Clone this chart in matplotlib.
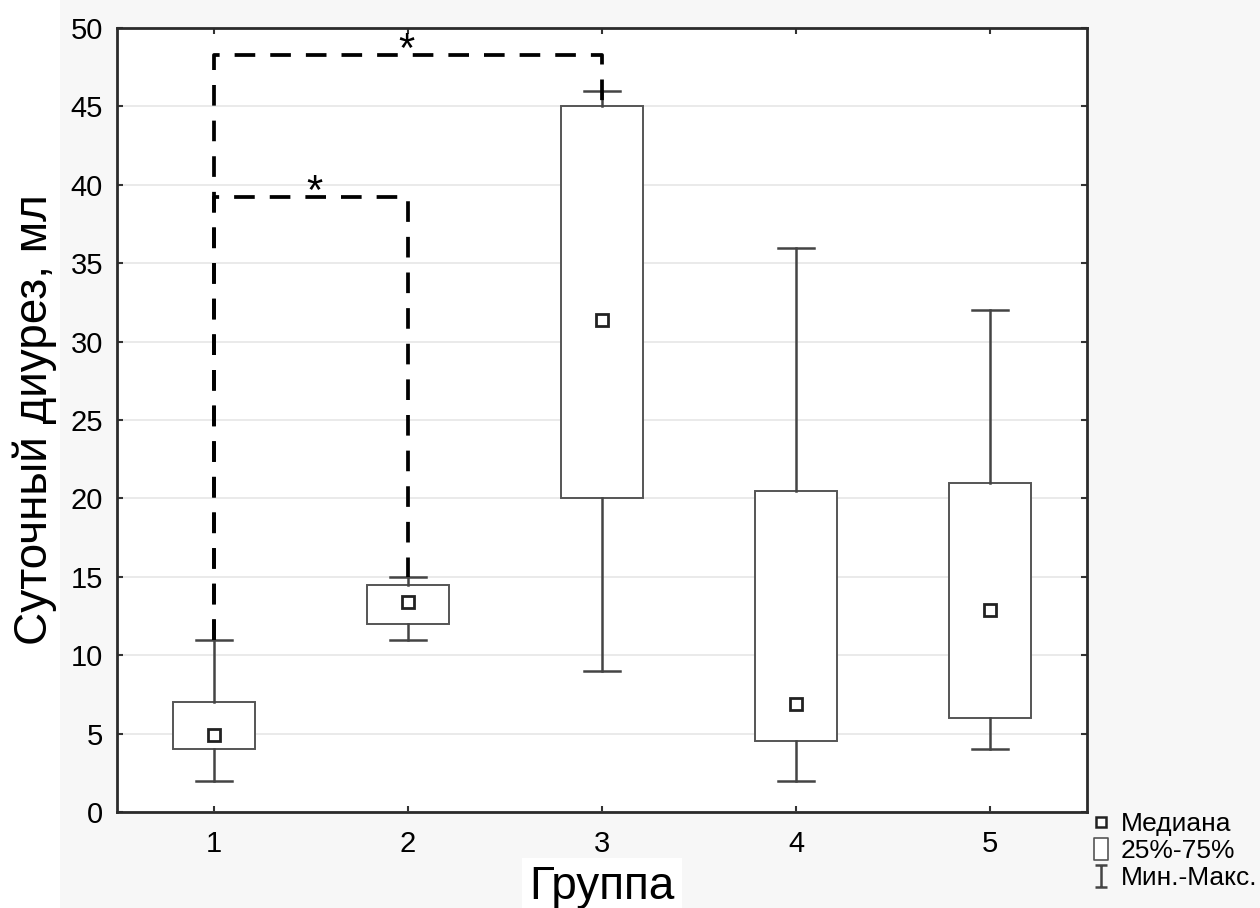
import numpy as np
import matplotlib.pyplot as plt
from matplotlib.path import Path
from matplotlib.lines import Line2D
from matplotlib.patches import Rectangle

plt.rcParams["font.family"] = ["Liberation Sans", "DejaVu Sans"]

# box statistics per group
groups = [1, 2, 3, 4, 5]
group_labels = ["1", "2", "3", "4", "5"]
mins = [2, 11, 9, 2, 4]
q1s = [4, 12, 20, 4.5, 6]
medians = [4.9, 13.4, 31.4, 6.9, 12.9]
q3s = [7, 14.5, 45, 20.5, 21]
maxs = [11, 15, 46, 36, 32]

# significance brackets: (left group, right group), bracket height, end heights
bracket_pairs = [(1, 3), (1, 2)]
bracket_heights = [48.3, 39.2]
bracket_ends = [(11, 45.2), (11, 15)]
star_x = [1.99, 1.52]

fig = plt.figure(figsize=(12.6, 9.08), dpi=100, facecolor="#f7f7f7")
fig.patches.append(Rectangle((0, 0), 60 / 1260, 1, transform=fig.transFigure,
                             facecolor="white", edgecolor="none", zorder=-1))
ax = fig.add_axes([117 / 1260, 1 - 812 / 908, 970 / 1260, 784 / 908])

stats = []
for lo, a, m, b, hi in zip(mins, q1s, medians, q3s, maxs):
    stats.append({"whislo": lo, "q1": a, "med": m, "q3": b, "whishi": hi, "fliers": []})

ax.bxp(stats, positions=groups, widths=0.42, showfliers=False, patch_artist=True,
       boxprops=dict(facecolor="white", edgecolor="#555555", linewidth=1.4),
       whiskerprops=dict(color="#444444", linewidth=1.8),
       capprops=dict(color="#444444", linewidth=1.8),
       medianprops=dict(visible=False), capwidths=0.19, zorder=3)

ax.plot(groups, medians, "s", markersize=8, markerfacecolor="white",
        markeredgecolor="#222222", markeredgewidth=2, zorder=4)

for (g1, g2), h, (e1, e2), sx in zip(bracket_pairs, bracket_heights, bracket_ends, star_x):
    ax.plot([g1, g1, g2, g2], [e1, h, h, e2], color="black", linewidth=2.7,
            dashes=(5.5, 4), zorder=5)
    ax.text(sx, h - 0.45, "*", ha="center", va="baseline", fontsize=30, zorder=6)

ax.set_xlim(0.5, 5.5)
ax.set_ylim(0, 50)
ax.set_yticks(np.arange(0, 51, 5))
ax.set_xticks(groups)
ax.set_xticklabels(group_labels)
ax.grid(axis="y", color="#e6e6e6", linewidth=1.2, zorder=0)
ax.set_axisbelow(True)
ax.tick_params(direction="in", length=4, width=1.5, color="#333333",
               top=True, right=True, labelsize=21)
ax.tick_params(axis="x", pad=13)
ax.tick_params(axis="y", pad=10)
for s in ax.spines.values():
    s.set_color("#2b2b2b")
    s.set_linewidth(2)

ax.set_ylabel("Суточный диурез, мл", fontsize=33, labelpad=10)
ax.set_xlabel("Группа", fontsize=33, labelpad=5,
              bbox=dict(facecolor="white", edgecolor="none", pad=5))

# legend
ibeam = Path([(-0.55, -1), (0.55, -1), (0, -1), (0, 1), (-0.55, 1), (0.55, 1)],
             [Path.MOVETO, Path.LINETO, Path.MOVETO, Path.LINETO, Path.MOVETO, Path.LINETO])
rect = Path([(-0.6, -1), (0.6, -1), (0.6, 1), (-0.6, 1), (-0.6, -1)],
            [Path.MOVETO, Path.LINETO, Path.LINETO, Path.LINETO, Path.CLOSEPOLY])
handles = [
    Line2D([], [], linestyle="none", marker="s", markersize=7, markerfacecolor="white",
           markeredgecolor="#222222", markeredgewidth=1.8),
    Line2D([], [], linestyle="none", marker=rect, markersize=16, markerfacecolor="white",
           markeredgecolor="#555555", markeredgewidth=1.2),
    Line2D([], [], linestyle="none", marker=ibeam, markersize=16, markerfacecolor="none",
           markeredgecolor="#444444", markeredgewidth=1.8),
]
fig.legend(handles, ["Медиана", "25%-75%", "Мин.-Макс."], loc="upper left",
           bbox_to_anchor=(1092 / 1260, 1 - 812 / 908), frameon=False, fontsize=19,
           handlelength=0.7, handletextpad=0.4, labelspacing=0.12, borderaxespad=0,
           borderpad=0)

fig.savefig("out.png", dpi=100, facecolor=fig.get_facecolor())
